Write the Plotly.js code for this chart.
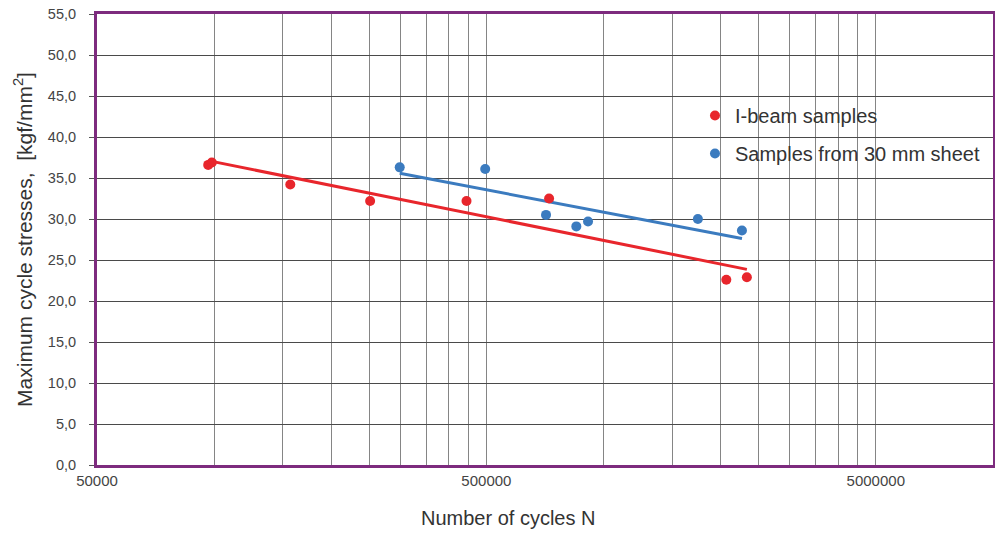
<!DOCTYPE html>
<html>
<head>
<meta charset="utf-8">
<script src="https://cdn.plot.ly/plotly-3.0.1.min.js"></script>
<style>html,body{margin:0;padding:0;background:#fff;}#chart{width:995px;height:534px;}</style>
</head>
<body>
<div id="chart"></div>
<script>
// Data
var redName = 'I-beam samples';
var blueName = 'Samples from 30 mm sheet';
var redN = [96500, 98600, 156800, 251400, 444600, 724400, 2066000, 2333000];
var redS = [36.6, 36.9, 34.2, 32.2, 32.2, 32.5, 22.6, 22.9];
var blueN = [299500, 496500, 711400, 851000, 912000, 1746000, 2266000];
var blueS = [36.3, 36.1, 30.5, 29.1, 29.7, 30.0, 28.6];

// Axis tick positions (gridlines) and labels
var xGridVals = [50000, 100000, 150000, 200000, 250000, 300000, 350000, 400000, 450000, 500000,
                 1000000, 1500000, 2000000, 2500000, 3000000, 3500000, 4000000, 4500000, 5000000, 10000000];
var xLabelVals = [50000, 500000, 5000000];
var xLabelText = ['50000', '500000', '5000000'];

// Logarithmic trend line (least squares in log10 N)
function logTrend(xs, ys) {
  var lx = xs.map(function (v) { return Math.log10(v); });
  var n = xs.length, mx = 0, my = 0;
  for (var i = 0; i < n; i++) { mx += lx[i]; my += ys[i]; }
  mx /= n; my /= n;
  var sxy = 0, sxx = 0;
  for (var j = 0; j < n; j++) { sxy += (lx[j] - mx) * (ys[j] - my); sxx += (lx[j] - mx) * (lx[j] - mx); }
  var a = sxy / sxx, b = my - a * mx;
  var xmin = Math.min.apply(null, xs), xmax = Math.max.apply(null, xs);
  return { x: [xmin, xmax], y: [a * Math.log10(xmin) + b, a * Math.log10(xmax) + b] };
}
var redFit = logTrend(redN, redS);
var blueFit = logTrend(blueN, blueS);

var RED = '#e8262c', BLUE = '#3b7bbf', PURPLE = '#7d2b7e';

var traces = [
  { x: redFit.x, y: redFit.y, mode: 'lines', line: { color: RED, width: 3 }, showlegend: false, hoverinfo: 'skip' },
  { x: blueFit.x, y: blueFit.y, mode: 'lines', line: { color: BLUE, width: 3 }, showlegend: false, hoverinfo: 'skip' },
  { x: redN, y: redS, mode: 'markers', name: redName, legendgroup: 'r', marker: { color: RED, size: 10 } },
  { x: blueN, y: blueS, mode: 'markers', name: blueName, legendgroup: 'b', marker: { color: BLUE, size: 10 } }
];

var tickText = xGridVals.map(function (v) {
  var k = xLabelVals.indexOf(v);
  return k >= 0 ? xLabelText[k] : '';
});

var layout = {
  width: 995, height: 534,
  margin: { l: 97, r: 2, t: 14, b: 69, autoexpand: false },
  paper_bgcolor: '#ffffff', plot_bgcolor: '#ffffff',
  font: { family: 'Liberation Sans, Arial, sans-serif', color: '#333333' },
  separators: ',.',
  showlegend: true,
  legend: {
    x: 0.6674, y: 0.818, xanchor: 'left', yanchor: 'top',
    bgcolor: 'rgba(0,0,0,0)', font: { size: 20, color: '#333333' },
    itemwidth: 30, tracegroupgap: 9
  },
  xaxis: {
    type: 'log',
    range: [Math.log10(50000), 7],
    tickmode: 'array', tickvals: xGridVals, ticktext: tickText,
    tickfont: { size: 15, color: '#444444' },
    ticks: '', showgrid: true, gridcolor: '#858585', gridwidth: 1,
    showline: true, linecolor: PURPLE, linewidth: 3, mirror: true,
    zeroline: false,
    title: { text: '' }
  },
  yaxis: {
    range: [0, 55], dtick: 5, tick0: 0, tickformat: '.1f',
    tickfont: { size: 14.5, color: '#444444' },
    ticks: 'outside', ticklen: 5, tickcolor: '#555555', ticklabelstandoff: 10,
    showgrid: true, gridcolor: '#4a4a4a', gridwidth: 1,
    showline: true, linecolor: PURPLE, linewidth: 3, mirror: true,
    zeroline: false,
    title: { text: 'Maximum cycle stresses,  [kgf/mm<sup>2</sup>]', font: { size: 21, color: '#333333' }, standoff: 10 }
  },
  annotations: [
    { text: 'Number of cycles N', xref: 'paper', yref: 'paper', x: (508 - 97) / 896, y: 0, yshift: -53,
      xanchor: 'center', yanchor: 'middle', showarrow: false, font: { size: 20, color: '#333333' } }
  ]
};

Plotly.newPlot('chart', traces, layout, { displayModeBar: false, staticPlot: true });
</script>
</body>
</html>
